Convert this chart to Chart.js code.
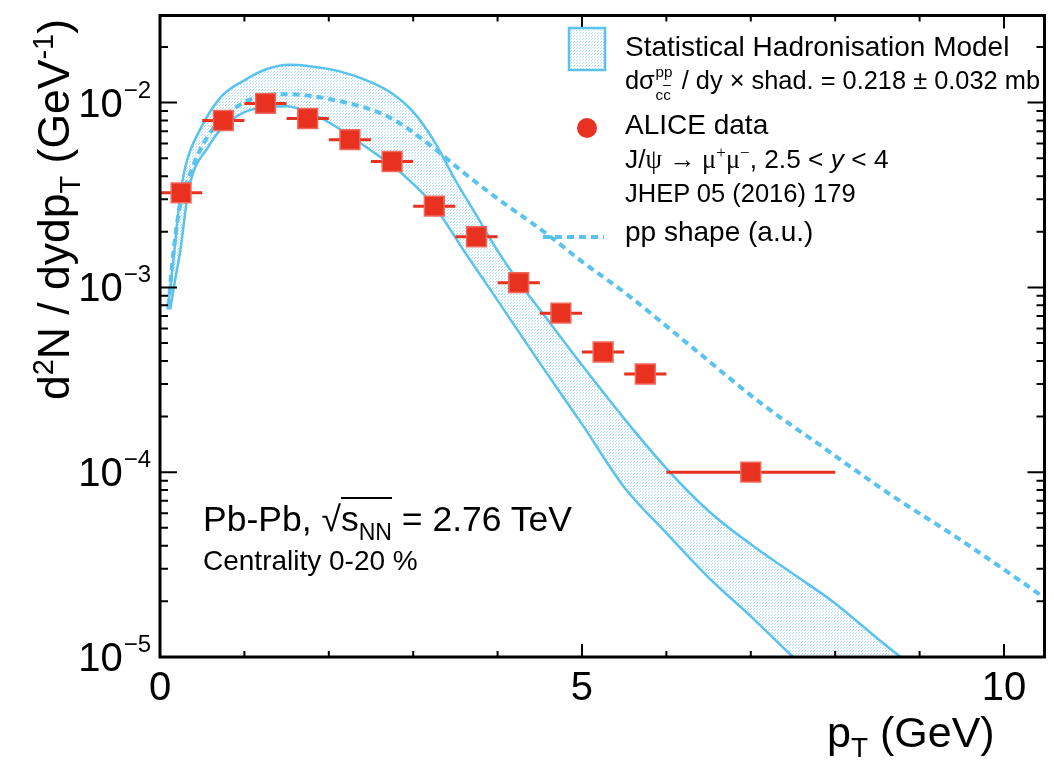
<!DOCTYPE html>
<html>
<head>
<meta charset="utf-8">
<script src="https://cdn.jsdelivr.net/npm/chart.js@4.4.1/dist/chart.umd.min.js"></script>
<style>
  html, body { margin: 0; padding: 0; background: #fff; overflow: hidden; }
  #wrap { position: relative; width: 1054px; height: 764px; overflow: hidden; }
  #wrap canvas { position: absolute; left: 0; top: 0; }
  .t {
    position: absolute; white-space: nowrap; line-height: 1; color: #000;
    font-family: "Liberation Sans", Arial, Helvetica, sans-serif;
  }
  .t sup, .t sub { font-size: 0.65em; line-height: 0; position: relative; vertical-align: baseline; }
  .t sup { top: -0.55em; }
  .t sub { top: 0.38em; }
  .serif { font-family: "Liberation Serif", "Times New Roman", serif; }
  .stk { display: inline-block; position: relative; width: 1.3em; height: 1em; font-size: 0.6em; }
  .stk > span { position: absolute; left: 0.05em; line-height: 1; }
  .stk > .u { top: -0.65em; }
  .stk > .l { top: 0.82em; }
  .ov { text-decoration: overline; }
  .rad { border-top: 2px solid #000; }
</style>
</head>
<body>
<div id="wrap">
  <canvas id="chart" width="1060" height="764"></canvas>
</div>
<script>
/* ---------- data ---------- */
// ALICE J/psi points: bin centres, bin edges, yields
const ptCenter = [0.25, 0.75, 1.25, 1.75, 2.25, 2.75, 3.25, 3.75, 4.25, 4.75, 5.25, 5.75, 7.0];
const ptLow    = [0, 0.5, 1.0, 1.5, 2.0, 2.5, 3.0, 3.5, 4.0, 4.5, 5.0, 5.5, 6.0];
const ptHigh   = [0.5, 1.0, 1.5, 2.0, 2.5, 3.0, 3.5, 4.0, 4.5, 5.0, 5.5, 6.0, 8.0];
const aliceYield = [3.25e-3, 8.0e-3, 9.9e-3, 8.2e-3, 6.3e-3, 4.8e-3, 2.75e-3, 1.88e-3,
                    1.06e-3, 7.25e-4, 4.47e-4, 3.4e-4, 1.0e-4];

// Statistical hadronisation model band, upper edge
const shmHighPt  = [0.09, 0.13, 0.17, 0.24, 0.31, 0.47, 0.72, 1.0, 1.25, 1.54, 1.75, 2.12,
                    2.5, 2.75, 3.0, 3.25, 3.5, 3.75, 4.0, 4.25, 4.5, 5.0, 5.5, 6.0, 6.5, 7.0,
                    7.5, 8.0, 8.5, 9.0];
const shmHighVal = [7.59e-4, 1.07e-3, 1.58e-3, 3.16e-3, 4.68e-3, 7.08e-3, 1.07e-2, 1.32e-2,
                    1.51e-2, 1.60e-2, 1.58e-2, 1.48e-2, 1.29e-2, 1.12e-2, 8.91e-3, 6.17e-3,
                    3.80e-3, 2.45e-3, 1.58e-3, 1.07e-3, 7.59e-4, 3.80e-4, 1.95e-4, 1.05e-4,
                    6.17e-5, 4.07e-5, 2.82e-5, 1.95e-5, 1.26e-5, 8.3e-6];

// lower edge
const shmLowPt  = [0.12, 0.175, 0.24, 0.34, 0.57, 0.8, 1.15, 1.5, 1.8, 2.12, 2.5, 2.75, 3.0,
                   3.25, 3.6, 4.0, 4.5, 5.0, 5.5, 6.0, 6.5, 7.0, 7.5, 8.0, 9.0];
const shmLowVal = [7.59e-4, 1.07e-3, 1.58e-3, 3.39e-3, 5.75e-3, 7.76e-3, 9.33e-3, 9.55e-3,
                   8.71e-3, 7.24e-3, 5.50e-3, 4.57e-3, 3.63e-3, 2.75e-3, 1.58e-3, 8.51e-4,
                   3.89e-4, 1.82e-4, 8.3e-5, 4.68e-5, 2.69e-5, 1.66e-5, 1.0e-5, 6.3e-6, 2.5e-6];

// pp shape (dotted)
const ppPt  = [0.1, 0.15, 0.22, 0.37, 0.57, 0.8, 1.15, 1.5, 2.12, 2.7, 3.17, 3.6, 4.0, 4.55,
               5.0, 5.54, 6.32, 7.1, 7.87, 8.65, 9.43, 10.2, 10.6];
const ppVal = [7.94e-4, 1.41e-3, 2.51e-3, 4.27e-3, 6.61e-3, 8.71e-3, 1.07e-2, 1.11e-2, 1.02e-2,
               8.41e-3, 6.03e-3, 4.17e-3, 3.02e-3, 2.0e-3, 1.38e-3, 9.12e-4, 4.68e-4, 2.40e-4,
               1.35e-4, 7.59e-5, 4.47e-5, 2.57e-5, 1.91e-5];

// axes
const xTickValues = [0, 1, 2, 3, 4, 5, 6, 7, 8, 9, 10];
const xMajor = [0, 5, 10];
const yDecades = [1e-2, 1e-3, 1e-4, 1e-5];
const yExpLabels = ["\u22122", "\u22123", "\u22124", "\u22125"];

const RED = "#e8311f";
const BLUE = "#5ac2ef";
const FONT = '"Liberation Sans", Arial, Helvetica, sans-serif';

function pts(xs, ys) {
  return xs.map((x, i) => ({ x: x, y: ys[i] }));
}

/* dotted light-blue fill of the model band */
const dotFill = (() => {
  const c = document.createElement("canvas");
  c.width = 3; c.height = 3;
  const g = c.getContext("2d");
  g.fillStyle = "rgba(90,190,236,0.5)";
  g.fillRect(0, 0, 1, 1);
  g.fillRect(1, 2, 1, 1);
  return g.createPattern(c, "repeat");
})();

/* =====================================================
   PLUGINS
===================================================== */
const errorBars = {
  id: "errorBars",
  beforeDatasetDraw(chart, args) {
    if (args.index !== 0) return;
    const { ctx, scales: { x, y } } = chart;
    ctx.save();
    ctx.strokeStyle = RED;
    ctx.lineWidth = 3;
    ctx.beginPath();
    ptCenter.forEach((c, i) => {
      const py = y.getPixelForValue(aliceYield[i]);
      ctx.moveTo(x.getPixelForValue(ptLow[i]), py);
      ctx.lineTo(x.getPixelForValue(ptHigh[i]), py);
    });
    ctx.stroke();
    ctx.restore();
  }
};

const frame = {
  id: "frame",
  afterDraw(chart) {
    const { ctx, chartArea: a, scales: { x, y } } = chart;
    ctx.save();

    // box
    ctx.strokeStyle = "#000";
    ctx.lineWidth = 3;
    ctx.strokeRect(a.left, a.top, a.right - a.left, a.bottom - a.top);

    // ticks
    ctx.lineWidth = 2;
    ctx.beginPath();
    xTickValues.forEach(v => {
      const px = x.getPixelForValue(v);
      const len = xMajor.includes(v) ? 13 : 6;
      ctx.moveTo(px, a.bottom); ctx.lineTo(px, a.bottom - len);
      ctx.moveTo(px, a.top); ctx.lineTo(px, a.top + len);
    });
    for (let e = -5; e <= -2; e++) {
      for (let m = 1; m <= 9; m++) {
        const v = m * Math.pow(10, e);
        if (v > y.max) break;
        const py = y.getPixelForValue(v);
        const len = m === 1 ? 17 : 8;
        ctx.moveTo(a.left, py); ctx.lineTo(a.left + len, py);
        ctx.moveTo(a.right, py); ctx.lineTo(a.right - len, py);
      }
    }
    ctx.stroke();

    // y tick labels 10^n
    ctx.fillStyle = "#000";
    ctx.textAlign = "right";
    ctx.textBaseline = "alphabetic";
    yDecades.forEach((v, i) => {
      const py = y.getPixelForValue(v);
      ctx.font = "24px " + FONT;
      const w = ctx.measureText(yExpLabels[i]).width;
      ctx.fillText(yExpLabels[i], 151, py - 5);
      ctx.font = "40px " + FONT;
      ctx.fillText("10", 150 - w, py + 14);
    });

    // legend symbols
    ctx.fillStyle = dotFill;
    ctx.fillRect(569, 28, 36, 42);
    ctx.strokeStyle = BLUE;
    ctx.lineWidth = 2.5;
    ctx.strokeRect(569, 28, 36, 42);

    ctx.fillStyle = RED;
    ctx.beginPath();
    ctx.arc(587, 128, 10, 0, Math.PI * 2);
    ctx.fill();

    ctx.strokeStyle = BLUE;
    ctx.lineWidth = 4;
    ctx.setLineDash([7, 5]);
    ctx.beginPath();
    ctx.moveTo(543, 237);
    ctx.lineTo(604, 237);
    ctx.stroke();
    ctx.restore();
  }
};

/* =====================================================
   CHART
===================================================== */
new Chart(document.getElementById("chart"), {
  type: "line",
  data: {
    datasets: [
      {
        label: "ALICE data",
        data: pts(ptCenter, aliceYield),
        showLine: false,
        pointStyle: "rect",
        pointRadius: 14,
        backgroundColor: RED,
        borderColor: "#f06a5c",
        borderWidth: 1.5
      },
      {
        label: "pp shape (a.u.)",
        data: pts(ppPt, ppVal),
        borderColor: BLUE,
        borderWidth: 4,
        borderDash: [7, 5],
        pointRadius: 0,
        cubicInterpolationMode: "monotone",
        fill: false
      },
      {
        label: "SHM upper",
        data: pts(shmHighPt, shmHighVal),
        borderColor: BLUE,
        borderWidth: 2.5,
        pointRadius: 0,
        cubicInterpolationMode: "monotone",
        backgroundColor: dotFill,
        fill: "+1"
      },
      {
        label: "SHM lower",
        data: pts(shmLowPt, shmLowVal),
        borderColor: BLUE,
        borderWidth: 2.5,
        pointRadius: 0,
        cubicInterpolationMode: "monotone",
        fill: false
      }
    ]
  },
  options: {
    responsive: false,
    animation: false,
    devicePixelRatio: 1,
    layout: { padding: { top: 10, right: 2, left: 0, bottom: 0 } },
    plugins: {
      legend: { display: false },
      tooltip: { enabled: false },
      filler: { drawTime: "beforeDatasetsDraw" }
    },
    scales: {
      x: {
        type: "linear",
        min: 0,
        max: 10.48,
        grid: { display: false, drawTicks: false },
        border: { display: false },
        afterBuildTicks: s => { s.ticks = xTickValues.map(v => ({ value: v })); },
        ticks: {
          autoSkip: false,
          maxRotation: 0,
          padding: 8,
          color: "#000",
          font: { family: FONT, size: 40 },
          callback: v => (xMajor.includes(v) ? String(v) : "")
        },
        afterFit: s => { s.height = 107; }
      },
      y: {
        type: "logarithmic",
        min: 1e-5,
        max: 0.0296,
        grid: { display: false, drawTicks: false },
        border: { display: false },
        ticks: { display: false },
        afterFit: s => { s.width = 160; }
      }
    }
  },
  plugins: [errorBars, frame]
});

/* =====================================================
   TEXT (positioned by baseline)
===================================================== */
const labels = [
  ["Statistical Hadronisation Model", 625, 57, 28],
  ['d\u03c3<span class="stk"><span class="u">pp</span><span class="l">c<span class="ov">c</span></span></span> / dy \u00d7 shad. = 0.218 \u00b1 0.032 mb', 625, 90, 25.4],
  ["ALICE data", 625, 135, 28],
  ['J/<span class="serif">\u03c8</span> <span class="serif">\u2192 \u03bc<sup>+</sup>\u03bc<sup>\u2212</sup></span>, 2.5 &lt; <i>y</i> &lt; 4', 625, 168, 26.3],
  ["JHEP 05 (2016) 179", 625, 203, 25.5],
  ["pp shape (a.u.)", 625, 242, 28],
  ['Pb-Pb, \u221a<span class="rad">s<sub>NN</sub></span> = 2.76 TeV', 203, 532, 35.5],
  ["Centrality 0-20 %", 203, 571, 28],
  ["p<sub>T</sub> (GeV)", 827, 747, 43]
];

const wrap = document.getElementById("wrap");
labels.forEach(([html, x, base, size]) => {
  const d = document.createElement("div");
  d.className = "t";
  d.innerHTML = html;
  d.style.fontSize = size + "px";
  d.style.left = x + "px";
  d.style.top = (base - 0.8465 * size) + "px";
  wrap.appendChild(d);
});

// rotated y-axis title
const yt = document.createElement("div");
yt.className = "t";
yt.innerHTML = "d<sup>2</sup>N / dydp<sub>T</sub> (GeV<sup>-1</sup>)";
yt.style.fontSize = "44.5px";
yt.style.left = (70 - 0.8465 * 44.5) + "px";
yt.style.top = "400px";
yt.style.transformOrigin = "0 0";
yt.style.transform = "rotate(-90deg)";
wrap.appendChild(yt);
</script>
</body>
</html>
